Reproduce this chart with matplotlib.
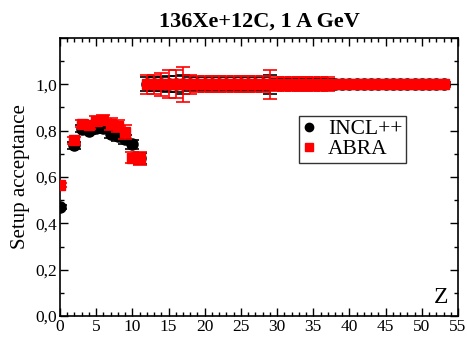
import matplotlib
matplotlib.use("Agg")
import matplotlib.pyplot as plt
from matplotlib.ticker import MultipleLocator, FuncFormatter
from matplotlib.lines import Line2D

plt.rcParams['font.family'] = ['Liberation Serif', 'DejaVu Serif']

# INCL++ (black circles)
incl_z = [0, 2, 3, 4, 5, 6, 7, 8, 9, 10, 11] + list(range(12, 54))
incl_v = [0.47, 0.737, 0.809, 0.80, 0.81, 0.81, 0.787, 0.775, 0.762, 0.741, 0.68] + [1.0] * 42
incl_e = [0.01, 0.015, 0.015, 0.015, 0.015, 0.02, 0.02, 0.02, 0.02, 0.02, 0.025] + \
    [0.03, 0.03, 0.03, 0.035, 0.035, 0.04, 0.03, 0.03, 0.03, 0.03, 0.03, 0.03, 0.03,
     0.03, 0.03, 0.03, 0.03, 0.04, 0.025, 0.025, 0.025, 0.025, 0.025, 0.025, 0.025,
     0.025] + [0.008] * 16

# ABRA (red squares)
abra_z = [0, 2, 3, 4, 5, 6, 7, 8, 9, 10, 11] + list(range(12, 54))
abra_v = [0.565, 0.759, 0.83, 0.823, 0.842, 0.848, 0.83, 0.82, 0.795, 0.684, 0.68] + [1.0] * 42
abra_e = [0.01, 0.015, 0.015, 0.015, 0.02, 0.02, 0.025, 0.025, 0.03, 0.025, 0.03] + \
    [0.04, 0.04, 0.05, 0.06, 0.06, 0.075, 0.04, 0.035, 0.035, 0.035, 0.035, 0.035,
     0.035, 0.035, 0.035, 0.035, 0.035, 0.063, 0.03, 0.03, 0.03, 0.03, 0.03, 0.03,
     0.03, 0.03] + [0.01] * 16

fig = plt.figure(figsize=(4.67, 3.37), dpi=100)
ax = fig.add_axes([60/467, 1 - 316/337, 398/467, 278/337])

ax.errorbar(incl_z, incl_v, yerr=incl_e, fmt='o', color='black', ms=8,
            ecolor='black', elinewidth=1.2, capsize=5, capthick=1.2, zorder=2)
ax.errorbar(abra_z, abra_v, yerr=abra_e, fmt='s', color='red', ms=7.5,
            ecolor='red', elinewidth=1.2, capsize=5, capthick=1.2, zorder=3)

ax.set_xlim(0, 55)
ax.set_ylim(0, 1.2)
ax.xaxis.set_major_locator(MultipleLocator(5))
ax.xaxis.set_minor_locator(MultipleLocator(1))
ax.yaxis.set_major_locator(MultipleLocator(0.2))
ax.yaxis.set_minor_locator(MultipleLocator(0.1))
ax.yaxis.set_major_formatter(FuncFormatter(lambda v, p: ('%.1f' % v).replace('.', ',') if v < 1.15 else ''))
ax.tick_params(which='both', direction='in', top=True, right=True, labelsize=12.5, pad=2)
ax.tick_params(which='major', length=6, width=1)
ax.tick_params(which='minor', length=3, width=1)
for s in ax.spines.values():
    s.set_linewidth(1.2)

ax.set_title('136Xe+12C, 1 A GeV', fontsize=16, fontweight='bold', pad=8)
ax.set_ylabel('Setup acceptance', fontsize=15, labelpad=4)
ax.text(52.6, 0.035, 'Z', fontsize=17, ha='center', va='bottom')

handles = [Line2D([], [], ls='none', marker='o', color='black', ms=6),
           Line2D([], [], ls='none', marker='s', color='red', ms=5.5)]
leg = ax.legend(handles, ['INCL++', 'ABRA'], loc='upper left',
                bbox_to_anchor=(239/398, (316-116)/278), fontsize=15.5,
                frameon=True, fancybox=False, edgecolor='black', handlelength=0.6,
                handletextpad=0.6, borderpad=0.15, labelspacing=0.0, borderaxespad=0)
leg.get_frame().set_linewidth(1)

fig.savefig('out.png', dpi=100)
